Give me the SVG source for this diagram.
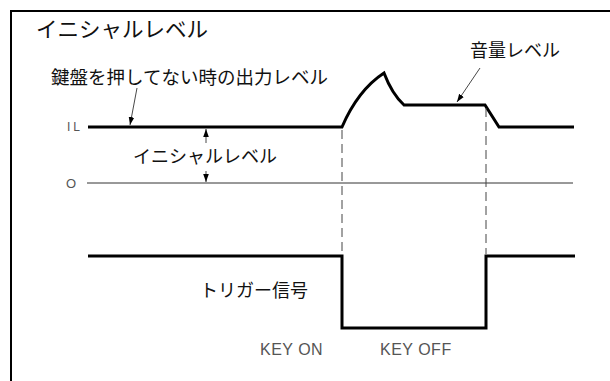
<svg xmlns="http://www.w3.org/2000/svg" width="610" height="381" viewBox="0 0 610 381">
<style>
.jp{font-family:"Noto Sans CJK JP","Noto Sans",sans-serif;fill:#111}
.lt{font-family:"Liberation Sans","DejaVu Sans",sans-serif;fill:#555}
.thick{fill:none;stroke:#000;stroke-width:3;stroke-linejoin:miter}
.thin{fill:none;stroke:#333;stroke-width:1}
.dash{fill:none;stroke:#444;stroke-width:1;stroke-dasharray:9,5}
.lead{fill:none;stroke:#333;stroke-width:0.9}
</style>
<defs>
<marker id="ah" viewBox="0 0 10 10" refX="10" refY="5" markerWidth="8" markerHeight="8" markerUnits="userSpaceOnUse" orient="auto">
<path d="M0,1.5 L10,5 L0,8.5 Z" fill="#000"/>
</marker>
</defs>
<rect width="610" height="381" fill="#fff"/>
<g id="frame">
<path d="M11,381 V11 H610" fill="none" stroke="#000" stroke-width="2"/>
</g>
<g id="title"><text class="jp" x="36" y="37" font-size="21.5">イニシャルレベル</text></g>
<g id="label-off-level"><text class="jp" x="51" y="84" font-size="18.5">鍵盤を押してない時の出力レベル</text></g>
<g id="label-volume"><text class="jp" x="470" y="57" font-size="18">音量レベル</text></g>
<g id="label-initial"><text class="jp" x="133" y="163" font-size="18">イニシャルレベル</text></g>
<g id="label-IL"><text class="lt" x="67" y="131" font-size="12" letter-spacing="3">IL</text></g>
<g id="label-O"><text class="lt" x="66" y="188" font-size="13">O</text></g>
<g id="label-trigger"><text class="jp" x="200" y="297" font-size="18">トリガー信号</text></g>
<g id="label-keyon"><text class="lt" x="260" y="355" font-size="16" letter-spacing="0.5">KEY ON</text></g>
<g id="label-keyoff"><text class="lt" x="380" y="355" font-size="16" letter-spacing="0.5">KEY OFF</text></g>
<g id="connectors">
<path class="thick" d="M88,127 H342 Q358,90 384,73 Q392,94 404,105 H485 L499,127 H574"/>
<path class="thin" d="M87,183 H573"/>
<path class="thick" d="M88,256 H342 V328 H486 V256 H575"/>
<path class="dash" d="M342,130 V254"/>
<path class="dash" d="M486,108 V254"/>
<path class="lead" d="M137,88 L130,125" marker-end="url(#ah)"/>
<path class="lead" d="M480,68 L457,102" marker-end="url(#ah)"/>
<path class="lead" d="M206,143 V129" marker-end="url(#ah)"/>
<path class="lead" d="M206,171 V182" marker-end="url(#ah)"/>
</g>
</svg>
